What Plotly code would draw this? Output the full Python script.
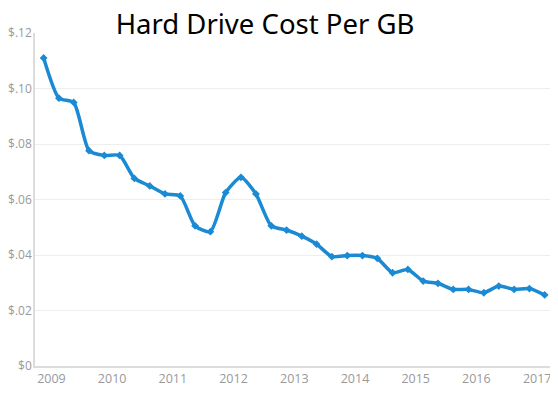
import plotly.graph_objects as go

dates = [
    "2008-11-15", "2009-02-15", "2009-05-15", "2009-08-15", "2009-11-15",
    "2010-02-15", "2010-05-15", "2010-08-15", "2010-11-15",
    "2011-02-15", "2011-05-15", "2011-08-15", "2011-11-15",
    "2012-02-15", "2012-05-15", "2012-08-15", "2012-11-15",
    "2013-02-15", "2013-05-15", "2013-08-15", "2013-11-15",
    "2014-02-15", "2014-05-15", "2014-08-15", "2014-11-15",
    "2015-02-15", "2015-05-15", "2015-08-15", "2015-11-15",
    "2016-02-15", "2016-05-15", "2016-08-15", "2016-11-15",
    "2017-02-15",
]
cost = [
    0.111, 0.0965, 0.095, 0.0776, 0.0759,
    0.0759, 0.0676, 0.0649, 0.0620,
    0.0613, 0.0505, 0.0484, 0.0625,
    0.0680, 0.0620, 0.0505, 0.0490,
    0.0468, 0.0439, 0.0394, 0.0398,
    0.0398, 0.0388, 0.0336, 0.0348,
    0.0306, 0.0298, 0.0276, 0.0276,
    0.0264, 0.0288, 0.0276, 0.0279,
    0.0256,
]
ytick_vals = [0, 0.02, 0.04, 0.06, 0.08, 0.10, 0.12]
ytick_text = ["$0", "$.02", "$.04", "$.06", "$.08", "$.10", "$.12"]
title_text = "Hard Drive Cost Per GB"

line_color = "#1a8ad4"

# page body has an 8px default margin, so the figure is sized to fit the window
W, H = 550, 390

fig = go.Figure()
fig.add_trace(go.Scatter(
    x=dates, y=cost, mode="lines+markers",
    line=dict(color=line_color, width=3.5, shape="spline", smoothing=0.6),
    marker=dict(color=line_color, size=6, symbol="diamond"),
    showlegend=False,
))

fig.update_layout(
    width=W, height=H,
    margin=dict(l=27, r=3, t=25, b=32, autoexpand=False),
    paper_bgcolor="white", plot_bgcolor="white",
    font=dict(family="Open Sans, Noto Sans, sans-serif", size=12, color="#999999"),
    title=dict(
        text=title_text, x=(265 - 8) / W, xanchor="center", y=1 - 16 / H, yanchor="middle",
        font=dict(family="Noto Sans, Open Sans, sans-serif", size=27.5, color="#000000"),
        automargin=False,
    ),
)
fig.update_xaxes(
    type="date", range=["2008-09-24", "2017-04-18"],
    tickformat="%Y", dtick="M12", tick0="2009-01-01",
    showgrid=False, showline=True, linecolor="#dcdcdc", linewidth=1.5,
    ticks="", tickfont=dict(size=12.5, color="#999999"), automargin=False,
    ticklabelstandoff=0,
)
fig.update_yaxes(
    range=[0, 0.12], tickvals=ytick_vals, ticktext=ytick_text,
    showgrid=True, gridcolor="#eeeeee", gridwidth=1,
    showline=True, linecolor="#dcdcdc", linewidth=1.5,
    zeroline=False, ticks="", tickfont=dict(size=12, color="#999999"),
    automargin=False, ticklabelstandoff=-1,
)

fig.write_html("out.html")
